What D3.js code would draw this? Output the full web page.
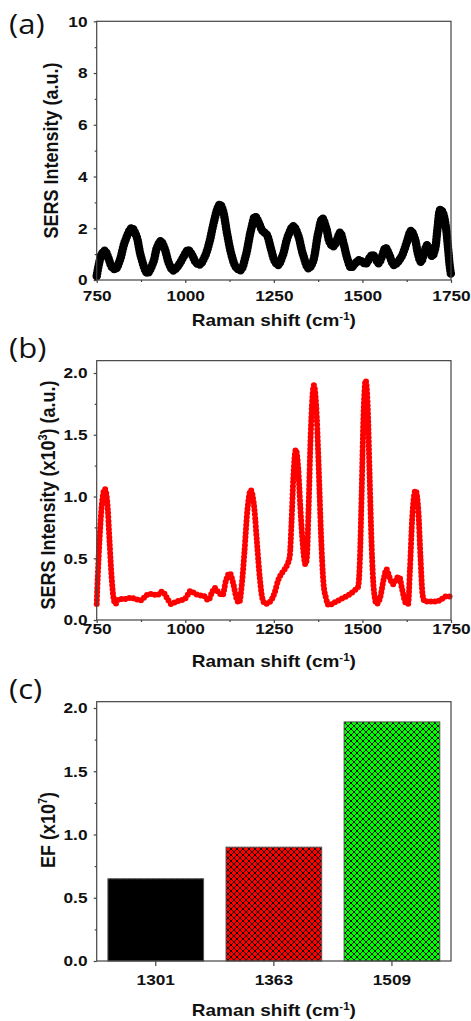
<!DOCTYPE html>
<html>
<head>
<meta charset="utf-8">
<script src="https://cdn.jsdelivr.net/npm/d3@7"></script>
<style>
  body { margin: 0; background: #fff; }
  svg { display: block; }
  text { font-family: "Liberation Sans", Arial, sans-serif; font-weight: bold; fill: #111; }
  .plabel { font-family: "Open Sans", "Noto Sans", sans-serif; font-weight: normal; font-size: 27px; }
</style>
</head>
<body>
<div id="chart"></div>
<script>
// (a) blank spectrum
const shiftA = [750, 756, 764, 773, 783, 793, 803, 815, 830, 849, 862, 875, 893, 910, 920, 931, 942, 955, 966, 980,
                995, 1008, 1020, 1030, 1041, 1055, 1068, 1080, 1092, 1098, 1106, 1118, 1130, 1143, 1156, 1170, 1185, 1197, 1208, 1218,
                1230, 1242, 1252, 1262, 1275, 1290, 1305, 1318, 1332, 1348, 1360, 1375, 1387, 1398, 1408, 1418, 1428, 1437, 1447, 1458,
                1468, 1480, 1491, 1500, 1510, 1520, 1529, 1537, 1545, 1555, 1565, 1575, 1589, 1600, 1612, 1625, 1637, 1648, 1657, 1665,
                1675, 1683, 1690, 1697, 1705, 1712, 1720, 1727, 1735, 1742, 1746, 1750];
const intA = [0.15, 0.6, 1.0, 1.13, 0.85, 0.5, 0.42, 0.75, 1.5, 2.0, 1.7, 0.9, 0.27, 0.7, 1.25, 1.5, 1.2, 0.6, 0.37, 0.55,
              0.9, 1.16, 0.95, 0.68, 0.6, 0.9, 1.45, 2.2, 2.8, 2.92, 2.7, 1.8, 1.0, 0.5, 0.38, 0.9, 1.9, 2.45, 2.2, 1.9,
              1.75, 1.2, 0.75, 0.58, 0.95, 1.7, 2.08, 1.75, 1.0, 0.45, 0.7, 1.8, 2.38, 2.0, 1.45, 1.3, 1.55, 1.83, 1.4, 0.8,
              0.48, 0.65, 0.77, 0.7, 0.63, 0.85, 0.97, 0.85, 0.65, 0.9, 1.24, 1.0, 0.58, 0.7, 0.95, 1.45, 1.9, 1.6, 1.0, 0.7,
              1.1, 1.35, 1.1, 0.92, 1.2, 2.0, 2.72, 2.6, 2.1, 1.2, 0.6, 0.2];

// (b) SERS spectrum (x10^3)
const shiftB = [750, 753, 758, 765, 773, 780, 786, 792, 798, 803, 812, 830, 845, 860, 875, 890, 905, 920, 935, 948,
                960, 975, 990, 1002, 1015, 1028, 1042, 1055, 1065, 1075, 1083, 1095, 1105, 1115, 1125, 1135, 1145, 1152, 1160, 1167,
                1175, 1185, 1195, 1203, 1210, 1218, 1226, 1240, 1252, 1262, 1275, 1288, 1295, 1300, 1305, 1312, 1319, 1325, 1332, 1339,
                1343, 1348, 1354, 1363, 1371, 1377, 1383, 1390, 1397, 1405, 1420, 1440, 1460, 1478, 1488, 1493, 1498, 1503, 1509, 1515,
                1520, 1526, 1532, 1540, 1550, 1560, 1568, 1576, 1587, 1597, 1604, 1612, 1622, 1629, 1634, 1641, 1650, 1658, 1664, 1670,
                1676, 1690, 1705, 1720, 1735, 1750];
const intB = [0.13, 0.35, 0.65, 0.95, 1.06, 0.95, 0.65, 0.35, 0.17, 0.13, 0.17, 0.17, 0.18, 0.17, 0.16, 0.2, 0.21, 0.2, 0.23, 0.18,
              0.13, 0.15, 0.16, 0.18, 0.235, 0.21, 0.2, 0.19, 0.16, 0.22, 0.26, 0.22, 0.2, 0.32, 0.38, 0.3, 0.17, 0.14, 0.3, 0.55,
              0.88, 1.05, 0.9, 0.6, 0.35, 0.17, 0.13, 0.15, 0.22, 0.32, 0.39, 0.45, 0.52, 0.8, 1.15, 1.38, 1.22, 0.9, 0.6, 0.45,
              0.5, 0.9, 1.5, 1.9, 1.65, 1.2, 0.7, 0.3, 0.18, 0.12, 0.14, 0.17, 0.2, 0.24, 0.27, 0.5, 1.05, 1.65, 1.94, 1.72,
              1.2, 0.6, 0.25, 0.13, 0.18, 0.33, 0.41, 0.35, 0.29, 0.34, 0.35, 0.25, 0.14, 0.13, 0.4, 0.85, 1.05, 0.88, 0.5, 0.2,
              0.15, 0.15, 0.15, 0.16, 0.19, 0.19];

// (c) enhancement factor (x10^7)
const bands = ["1301", "1363", "1509"];
const efValues = [0.65, 0.9, 1.89];
const barColors = ["#000000", "#ff0000", "#00ff00"];

const W = 471, H = 1021;
const xl = 96.7, xr = 451;
const stretch = 1.15;

const svg = d3.select("#chart").append("svg")
    .attr("width", W)
    .attr("height", H);

const defs = svg.append("defs");
const pat = defs.append("pattern")
    .attr("id", "xhatch")
    .attr("patternUnits", "userSpaceOnUse")
    .attr("width", 6)
    .attr("height", 6);
pat.append("path")
    .attr("d", "M0,0L6,6M6,0L0,6")
    .attr("stroke", "#000")
    .attr("stroke-width", 0.9);

const x = d3.scaleLinear().domain([750, 1750]).range([xl, xr]);

function panelLabel(txt, baseline) {
    svg.append("g")
       .attr("transform", `translate(9,${baseline}) scale(${stretch},1)`)
       .append("text")
       .attr("class", "plabel")
       .text(txt);
}

function xTitle(baseline) {
    const t = svg.append("g")
        .attr("transform", `translate(${(xl + xr) / 2},${baseline}) scale(${stretch},1)`)
        .append("text")
        .attr("text-anchor", "middle")
        .style("font-size", "16.5px");
    t.append("tspan").text("Raman shift (cm");
    t.append("tspan").attr("dy", -6).style("font-size", "10px").text("-1");
    t.append("tspan").attr("dy", 6).text(")");
}

function yTitle(cx, cy, parts) {
    const t = svg.append("g")
        .attr("transform", `translate(${cx},${cy}) scale(${stretch},1) rotate(-90)`)
        .append("text")
        .attr("text-anchor", "middle")
        .attr("dy", "0.32em")
        .style("font-size", "18px");
    t.append("tspan").text(parts[0]);
    if (parts.length > 1) {
        t.append("tspan").attr("dy", -7).style("font-size", "11px").text(parts[1]);
        t.append("tspan").attr("dy", 7).text(parts[2]);
    }
}

function styleAxis(g) {
    g.select(".domain").remove();
    g.selectAll("line").attr("stroke", "#444").attr("stroke-width", 1.2);
    g.selectAll("text").style("font-size", "15px").attr("fill", "#111");
}

function frame(top, bottom) {
    svg.append("rect")
       .attr("x", xl).attr("y", top)
       .attr("width", xr - xl).attr("height", bottom - top)
       .attr("fill", "none")
       .attr("stroke", "#444")
       .attr("stroke-width", 1.2);
}

function spectrumAxes(y, bottom, yMajor, yMinor, fmt, xPad) {
    const gy = svg.append("g")
        .attr("transform", `translate(${xl},0)`)
        .call(d3.axisLeft(y).tickValues(yMajor).tickFormat(fmt).tickSize(3).tickPadding(5));
    styleAxis(gy);
    gy.selectAll("text").attr("transform", `scale(${stretch},1)`);
    const gym = svg.append("g")
        .attr("transform", `translate(${xl},0)`)
        .call(d3.axisLeft(y).tickValues(yMinor).tickFormat("").tickSize(2));
    styleAxis(gym);

    const gx = svg.append("g")
        .attr("transform", `translate(0,${bottom})`)
        .call(d3.axisBottom(x).tickValues([750, 1000, 1250, 1500, 1750]).tickFormat(d3.format("d")).tickSize(3).tickPadding(xPad));
    styleAxis(gx);
    gx.selectAll("text").attr("transform", `scale(${stretch},1)`);
    const gxm = svg.append("g")
        .attr("transform", `translate(0,${bottom})`)
        .call(d3.axisBottom(x).tickValues([875, 1125, 1375, 1625]).tickFormat("").tickSize(2));
    styleAxis(gxm);
}

// ---------- panel (a)
const yA = d3.scaleLinear().domain([0, 10]).range([280, 21.3]);
const dataA = shiftA.map((s, i) => ({ s: s, v: intA[i] }));
const lineA = d3.line().x(d => x(d.s)).y(d => yA(d.v)).curve(d3.curveCatmullRom.alpha(0.5));

svg.append("path")
   .datum(dataA)
   .attr("d", lineA)
   .attr("fill", "none")
   .attr("stroke", "#000")
   .attr("stroke-width", 7)
   .attr("stroke-linejoin", "round");
svg.append("path")
   .datum(dataA)
   .attr("d", lineA)
   .attr("fill", "none")
   .attr("stroke", "#000")
   .attr("stroke-width", 8.5)
   .attr("stroke-linecap", "round")
   .attr("stroke-dasharray", "0 3");

frame(21.3, 280);
spectrumAxes(yA, 280, [0, 2, 4, 6, 8, 10], [1, 3, 5, 7, 9], d3.format("d"), 7.5);
panelLabel("(a)", 34);
xTitle(326);
yTitle(51, 150.5, ["SERS Intensity (a.u.)"]);

// ---------- panel (b)
const yB = d3.scaleLinear().domain([0, 2.1]).range([620, 620 - 2.1 * 123.5]);
const dataB = shiftB.map((s, i) => ({ s: s, v: intB[i] }));
const lineB = d3.line().x(d => x(d.s)).y(d => yB(d.v)).curve(d3.curveMonotoneX);

svg.append("path")
   .datum(dataB)
   .attr("d", lineB)
   .attr("fill", "none")
   .attr("stroke", "#ff0000")
   .attr("stroke-width", 2.2);
svg.append("path")
   .datum(dataB)
   .attr("d", lineB)
   .attr("fill", "none")
   .attr("stroke", "#ff0000")
   .attr("stroke-width", 6)
   .attr("stroke-linecap", "round")
   .attr("stroke-dasharray", "0 4");

frame(620 - 2.1 * 123.5, 620);
spectrumAxes(yB, 620, [0, 0.5, 1, 1.5, 2], [0.25, 0.75, 1.25, 1.75], d3.format(".1f"), 0.5);
panelLabel("(b)", 357.5);
xTitle(667);
yTitle(48.5, 495, ["SERS Intensity (x10", "3", ") (a.u.)"]);

// ---------- panel (c)
const yC = d3.scaleLinear().domain([0, 2.05]).range([961, 961 - 2.05 * 126.5]);
const xC = d3.scaleBand().domain(bands).range([xl, xr]).paddingInner(0.19).paddingOuter(0.095);

const bars = svg.append("g").selectAll("g")
    .data(bands)
    .enter()
    .append("g");
bars.append("rect")
    .attr("x", d => xC(d))
    .attr("y", (d, i) => yC(efValues[i]))
    .attr("width", xC.bandwidth())
    .attr("height", (d, i) => yC(0) - yC(efValues[i]))
    .attr("fill", (d, i) => barColors[i]);
bars.append("rect")
    .attr("x", d => xC(d))
    .attr("y", (d, i) => yC(efValues[i]))
    .attr("width", xC.bandwidth())
    .attr("height", (d, i) => yC(0) - yC(efValues[i]))
    .attr("fill", "url(#xhatch)")
    .attr("stroke", "#555")
    .attr("stroke-width", 1);

frame(961 - 2.05 * 126.5, 961);
const gyc = svg.append("g")
    .attr("transform", `translate(${xl},0)`)
    .call(d3.axisLeft(yC).tickValues([0, 0.5, 1, 1.5, 2]).tickFormat(d3.format(".1f")).tickSize(3).tickPadding(5));
styleAxis(gyc);
gyc.selectAll("text").attr("transform", `scale(${stretch},1)`);
const gycm = svg.append("g")
    .attr("transform", `translate(${xl},0)`)
    .call(d3.axisLeft(yC).tickValues([0.25, 0.75, 1.25, 1.75]).tickFormat("").tickSize(2));
styleAxis(gycm);
const gxc = svg.append("g")
    .attr("transform", `translate(0,961)`)
    .call(d3.axisBottom(xC).tickSize(5).tickPadding(8.5));
styleAxis(gxc);
gxc.selectAll("text").attr("transform", `scale(${stretch},1)`);

panelLabel("(c)", 699);
xTitle(1016);
yTitle(48.5, 830, ["EF (x10", "7", ")"]);
</script>
</body>
</html>
